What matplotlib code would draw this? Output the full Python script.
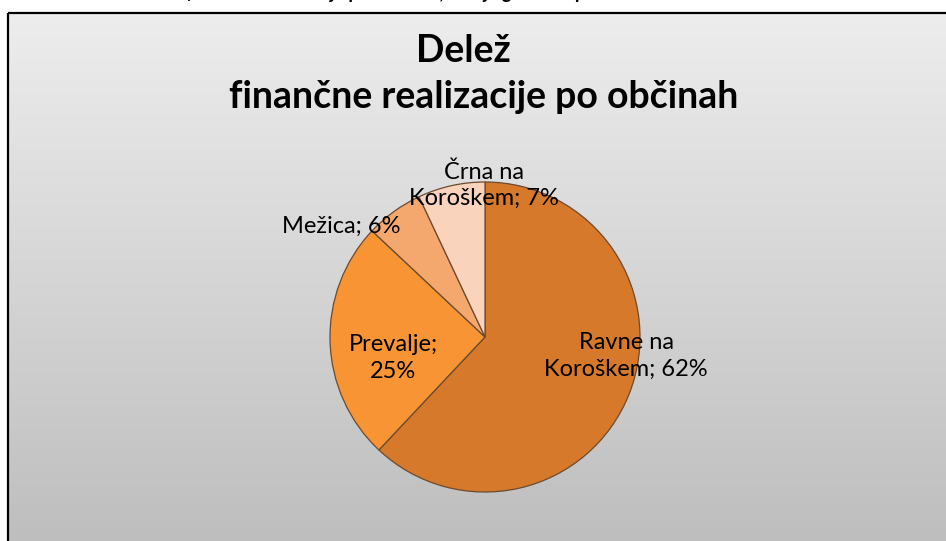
import numpy as np
import matplotlib
matplotlib.use("Agg")
import matplotlib.pyplot as plt
from matplotlib.patches import Rectangle

# ---- data ----
names = ["Ravne na Koroškem", "Prevalje", "Mežica", "Črna na Koroškem"]
shares = [62, 25, 6, 7]
colors = ["#d6792a", "#f89434", "#f5a86e", "#fad3bd"]
title_lines = ["Delež", "finančne realizacije po občinah"]
caption = "Slika 4: Prikaz – Delež finančne realizacije po občinah, stanje glede na plan"

W, H = 946, 541
fig = plt.figure(figsize=(W / 100, H / 100), dpi=100)
fig.patch.set_facecolor("white")

# background axes in pixel coordinates
bg = fig.add_axes([0, 0, 1, 1], zorder=0)
top = 13
grad = np.linspace(0, 1, 256).reshape(-1, 1)
c_top = np.array([237, 237, 237]) / 255
c_bot = np.array([190, 190, 190]) / 255
img = c_top + (c_bot - c_top) * grad[..., None]
img = np.repeat(img, 2, axis=1)
bg.imshow(img, extent=[8, W + 10, H, top], aspect="auto", zorder=0)
bg.add_patch(Rectangle((8, top), W + 20, H, fill=False, ec="black", lw=1.6, zorder=2))
bg.set_xlim(0, W)
bg.set_ylim(H, 0)
bg.axis("off")

# pie axes
cx, cy, r = 485, 337, 155
pa = fig.add_axes([(cx - r) / W, 1 - (cy + r) / H, 2 * r / W, 2 * r / H], zorder=1)
wedges, _ = pa.pie(shares, colors=colors, startangle=90, counterclock=False,
                   radius=1.0,
                   wedgeprops=dict(edgecolor="#6b4a30", linewidth=0.9))
pa.set_xlim(-1, 1)
pa.set_ylim(-1, 1)
pa.set_aspect("equal")
pa.axis("off")
pa.patch.set_alpha(0)

# overlay axes for texts
ov = fig.add_axes([0, 0, 1, 1], zorder=2)
ov.set_xlim(0, W)
ov.set_ylim(H, 0)
ov.axis("off")
ov.patch.set_alpha(0)

# clipped caption above the chart (only descenders visible, as in the reference)
ov.text(2, -0.5, caption, fontsize=14, fontweight="bold", style="italic",
        family="Lato", va="baseline", ha="left", color="black")

# title
ov.text(463, 62, title_lines[0], fontsize=27, fontweight="bold", family="Lato",
        ha="center", va="baseline")
ov.text(484, 108, title_lines[1], fontsize=27, fontweight="bold", family="Lato",
        ha="center", va="baseline")

# labels
lab_kw = dict(fontsize=17, family="Lato", ha="center", va="center")
ov.text(626, 356, f"Ravne na\nKoroškem; {shares[0]}%", linespacing=1.3, **lab_kw)
ov.text(393, 358, f"{names[1]};\n{shares[1]}%", linespacing=1.3, **lab_kw)
ov.text(341, 226, f"{names[2]}; {shares[2]}%", **lab_kw)
ov.text(484, 185, f"Črna na\nKoroškem; {shares[3]}%", linespacing=1.3, **lab_kw)

fig.savefig("out.png", dpi=100)
